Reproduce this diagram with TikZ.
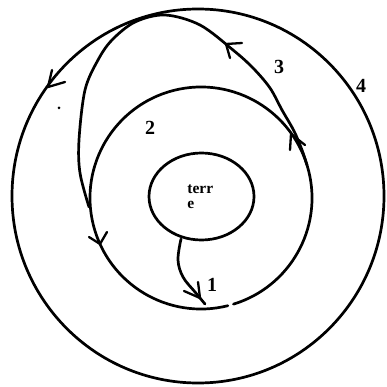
\documentclass[tikz,border=0pt]{standalone}
\usepackage{fontspec}
\setmainfont{Liberation Serif}
\begin{document}
\begin{tikzpicture}[x=1pt,y=-1pt, line width=2.7pt, line cap=round, line join=round,
  lbl/.style={font=\fontsize{20}{20}\selectfont\bfseries, inner sep=0pt},
  earthtxt/.style={font=\fontsize{15.5}{15.5}\selectfont\bfseries, inner sep=0pt, anchor=base west},
  barb/.style={line width=2.3pt}]
\useasboundingbox (0,0) rectangle (386,387);
\fill[white] (0,0) rectangle (386,387);
% orbit 4 (outer)
\draw (198,196) ellipse [x radius=186, y radius=187];
% orbit 2 (middle) with small gap at the bottom
\draw ([shift={(76:111)}]201,198) arc[start angle=76, end angle=433, radius=111];
% earth
\draw (201.5,196.5) ellipse [x radius=52.5, y radius=43.5];
\node[earthtxt] (t1) at (186,193) {terr};
\node[earthtxt] (t2) at (186,208) {e};
% transfer path 3 and return path
\draw plot[smooth, tension=0.55] coordinates {(307,165) (302,150) (294,131) (282,110) (270,88) (253,68) (233,50) (200,25) (165,15) (135,22) (112,40) (98,60) (85,90) (79,140) (80,173) (89,207)};
% launch arrow 1
\draw plot[smooth, tension=0.6] coordinates {(181,239) (178,260) (183,277) (195,292) (205,304)};
% arrowheads
\draw[barb] (184,291) -- (200,298) -- (198,282);
\draw[barb] (52,70) -- (48,87) -- (65,82);
\draw[barb] (242,43) -- (226,44) -- (230,58);
\draw[barb] (290,150) -- (291,134) -- (305,145);
\draw[barb] (89,237) -- (100,244) -- (107,232);
% dot
\fill (59,108) circle (1.5);
% labels
\node[lbl] (l1) at (212,285) {1};
\node[lbl] (l2) at (150,128) {2};
\node[lbl] (l3) at (279,67) {3};
\node[lbl] (l4) at (361,86) {4};
\end{tikzpicture}
\end{document}
